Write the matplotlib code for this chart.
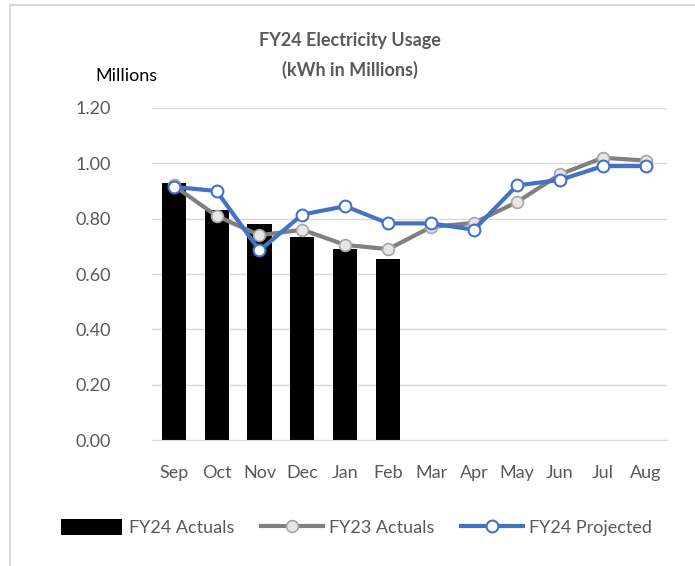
import numpy as np
import matplotlib.pyplot as plt
from matplotlib.lines import Line2D

plt.rcParams['font.family'] = ['Lato', 'DejaVu Sans']

months = ['Sep', 'Oct', 'Nov', 'Dec', 'Jan', 'Feb', 'Mar', 'Apr', 'May', 'Jun', 'Jul', 'Aug']
fy24_actuals = [0.93, 0.83, 0.78, 0.735, 0.69, 0.655]
fy23_actuals = [0.92, 0.81, 0.74, 0.76, 0.705, 0.69, 0.77, 0.785, 0.86, 0.96, 1.02, 1.01]
fy24_projected = [0.915, 0.90, 0.685, 0.815, 0.845, 0.783, 0.783, 0.76, 0.92, 0.94, 0.99, 0.99]
yticks = [0.0, 0.2, 0.4, 0.6, 0.8, 1.0, 1.2]

text_col = '#595959'
grid_col = '#D9D9D9'

fig = plt.figure(figsize=(6.95, 5.66), dpi=100)
ax = fig.add_axes([0.219, 0.2226, 0.741, 0.5866])

x = np.arange(len(months))
b = ax.bar(x[:len(fy24_actuals)], fy24_actuals, width=0.56, color='black', zorder=2,
           label='FY24 Actuals')
l1, = ax.plot(x, fy23_actuals, color='#808080', lw=3, marker='o', ms=8.5,
              mfc='#E7E6E6', mec='#A6A6A6', mew=1.2, zorder=3, label='FY23 Actuals')
l2, = ax.plot(x, fy24_projected, color='#4472C4', lw=3, marker='o', ms=8.5,
              mfc='white', mec='#4472C4', mew=1.5, zorder=4, label='FY24 Projected')

ax.set_xlim(-0.5, 11.5)
ax.set_ylim(0, 1.2)
ax.set_yticks(yticks)
ax.set_yticklabels([f'{v:.2f}' for v in yticks])
ax.set_xticks(x)
ax.set_xticklabels(months)
ax.tick_params(axis='both', length=0, labelsize=13, colors=text_col)
ax.tick_params(axis='y', pad=30)
ax.tick_params(axis='x', pad=18)
ax.grid(axis='y', color=grid_col, lw=1, zorder=0)
ax.set_axisbelow(True)
for s in ['top', 'right', 'left']:
    ax.spines[s].set_visible(False)
ax.spines['bottom'].set_color(grid_col)

fig.text(0.503, 0.928, 'FY24 Electricity Usage', ha='center', va='center',
         fontsize=13, fontweight='bold', color=text_col)
fig.text(0.503, 0.876, '(kWh in Millions)', ha='center', va='center',
         fontsize=13, fontweight='bold', color=text_col)
fig.text(0.182, 0.866, 'Millions', ha='center', va='center', fontsize=13, color='black')

leg = fig.legend([b, l1, l2], ['FY24 Actuals', 'FY23 Actuals', 'FY24 Projected'],
                 loc='center', bbox_to_anchor=(0.513, 0.068), ncol=3,
                 frameon=False, fontsize=13, handlelength=3.4, handleheight=0.95,
                 columnspacing=1.5, handletextpad=0.35)
for t in leg.get_texts():
    t.set_color(text_col)

# chart border
fig.add_artist(Line2D([0.0145, 0.0145], [0, 0.991], color='#D9D9D9', lw=1.5))
fig.add_artist(Line2D([0.0145, 1.0], [0.991, 0.991], color='#D9D9D9', lw=1.5))

fig.savefig('out.png', dpi=100)
